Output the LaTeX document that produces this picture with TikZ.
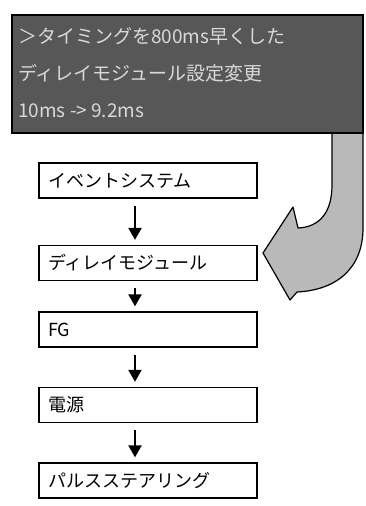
\documentclass[tikz,border=0pt]{standalone}
\usepackage{fontspec}
\setmainfont{Noto Sans CJK JP}
\usetikzlibrary{arrows.meta}
\begin{document}
\begin{tikzpicture}[x=1pt,y=-1pt,
  stepbox/.style={draw=black,line width=1.3pt,fill=white,rectangle,
    minimum height=35pt,text width=200pt,inner xsep=9pt,inner ysep=0pt,
    align=left,font=\fontsize{18}{21}\selectfont},
  flow/.style={line width=2.2pt,-{Triangle[width=13pt,length=12pt]},
    shorten <=7pt,shorten >=5pt},
  toptext/.style={anchor=west,inner sep=0pt,text=white!85!black,
    font=\fontsize{19}{22}\selectfont}]
\useasboundingbox (0,0) rectangle (365,506);
% curved wide arrow
\draw[line width=1.2pt,fill=gray!55,line join=round]
  (332,120) -- (332,185) .. controls (332,212) and (320,227) .. (298,228)
  -- (293,207) -- (263,253) -- (290,300) -- (297,292)
  .. controls (337,290) and (363,268) .. (363,228) -- (363,120) -- cycle;
% top dark box
\node[draw=black,line width=1.4pt,fill=black!66,minimum width=351pt,
  minimum height=118pt,inner sep=0pt] (note) at (187.5,74) {};
\node[toptext] (l1) at (18,36) {＞タイミングを800ms早くした};
\node[toptext] (l2) at (18,73) {ディレイモジュール設定変更};
\node[toptext] (l3) at (18,111) {10ms -> 9.2ms};
% flow boxes
\node[stepbox] (ev) at (148,180.5) {イベントシステム};
\node[stepbox] (dm) at (148,263) {ディレイモジュール};
\node[stepbox] (fg) at (148,329.5) {FG};
\node[stepbox] (ps) at (148,405) {電源};
\node[stepbox] (pst) at (148,480.5) {パルスステアリング};
\foreach \a/\b in {ev/dm,dm/fg,fg/ps,ps/pst}
  \draw[flow] ([xshift=-13pt]\a.south) -- ([xshift=-13pt]\b.north);
\end{tikzpicture}
\end{document}
